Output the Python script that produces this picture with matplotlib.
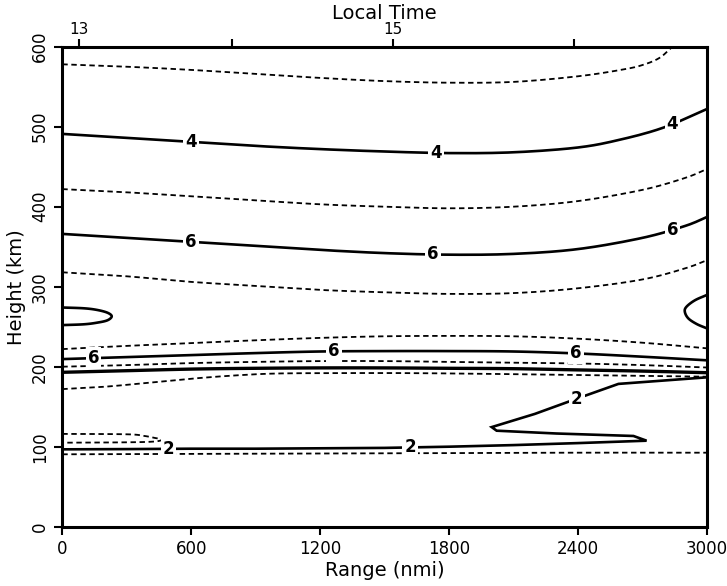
import numpy as np
import matplotlib
matplotlib.use("Agg")
import matplotlib.pyplot as plt

plt.rcParams['font.family'] = ['DejaVu Sans']

# ---- contour lines: range (nmi) and height (km) ----
# dashed contours (intermediate levels)
d_top_r = [0, 300, 600, 900, 1200, 1500, 1800, 2100, 2400, 2600, 2700, 2780, 2840]
d_top_h = [578, 575, 571, 566, 561, 557, 555, 556, 563, 571, 577, 586, 600]

d_420_r = [0, 300, 600, 900, 1200, 1500, 1800, 2100, 2400, 2700, 2900, 3000]
d_420_h = [422, 418, 413, 408, 403, 400, 398, 400, 407, 421, 436, 447]

d_318_r = [0, 300, 600, 900, 1200, 1500, 1800, 2100, 2400, 2700, 2900, 3000]
d_318_h = [318, 313, 306, 301, 296, 293, 291, 292, 298, 309, 323, 333]

d_222_r = [0, 300, 600, 900, 1200, 1500, 1800, 2100, 2400, 2700, 3000]
d_222_h = [222, 226, 229.5, 233, 236, 238, 238.5, 238, 235, 230, 223]

d_200_r = [0, 300, 600, 900, 1200, 1500, 1800, 2100, 2400, 2700, 3000]
d_200_h = [200, 202, 204.5, 206, 207, 207, 206, 205, 204, 202, 199]

d_172_r = [0, 200, 400, 600, 800, 1000, 1300, 1600, 2000, 2400, 2700, 3000]
d_172_h = [172, 175, 180, 185, 189, 191.5, 192, 192, 191, 189.5, 188.5, 187.5]

d_loop_r = [0, 300, 380, 430, 463, 430, 300, 0]
d_loop_h = [116, 115.5, 113.5, 111, 109, 106.5, 105.5, 105]

d_90_r = [0, 600, 1200, 1800, 2400, 3000]
d_90_h = [90.5, 91, 91.5, 92, 92.5, 92.5]

# solid contours (labelled levels)
s4_r = [0, 300, 600, 900, 1200, 1500, 1800, 2100, 2400, 2600, 2800, 3000]
s4_h = [491, 486, 481, 476, 472, 469, 467, 468, 474, 484, 499, 522]

s6a_r = [0, 300, 600, 900, 1200, 1500, 1800, 2100, 2400, 2700, 2900, 3000]
s6a_h = [366, 361, 356, 351, 346, 342, 340, 341, 347, 361, 376, 387]

s6b_r = [0, 300, 600, 900, 1200, 1500, 1800, 2100, 2400, 2700, 3000]
s6b_h = [209.5, 212, 214.5, 217, 219, 219.5, 219.5, 219, 216.5, 212.5, 208]

s_thick_r = [0, 300, 600, 900, 1200, 1500, 1800, 2100, 2400, 2700, 3000]
s_thick_h = [193, 195, 197, 198, 198.5, 198.5, 198, 197.5, 196, 194.5, 192.5]

s2_r = [0, 300, 600, 900, 1200, 1500, 1800, 2100, 2400, 2720,
        2659, 2300, 2022, 1999, 2200, 2400, 2589, 3000]
s2_h = [96.7, 97, 97.5, 97.5, 98, 98.5, 100, 102, 104.5, 107.5,
        113.4, 116.5, 120, 124.5, 141, 160.5, 178.5, 186.7]

bump_left_r = [0, 100, 161, 210, 230, 210, 161, 100, 0]
bump_left_h = [274, 273, 271, 267.5, 263, 258, 255, 253, 252]

bump_right_r = [3000, 2945, 2906, 2898, 2914, 2953, 3000]
bump_right_h = [289.6, 283, 275, 268.8, 260.5, 253.4, 248]

# contour label positions along range (nmi)
label_4 = [600, 1740, 2840]
label_6a = [600, 1725, 2840]
label_6b = [145, 1265, 2392]
label_2 = [494, 1620]
label_2_rise = [2395]

x_ticks = [0, 600, 1200, 1800, 2400, 3000]
y_ticks = [0, 100, 200, 300, 400, 500, 600]
lt_tick_pos = [80, 790, 1540, 2380]
lt_tick_lab = ["13", "", "15", ""]


def smooth(rr, hh, n=12):
    """Catmull-Rom pass through the given points, in screen-like units."""
    p = np.column_stack([np.asarray(rr, float) / 5.0, np.asarray(hh, float)])
    p = np.vstack([p[0] - (p[1] - p[0]), p, p[-1] + (p[-1] - p[-2])])
    out = []
    t = np.linspace(0, 1, n, endpoint=False)[:, None]
    for i in range(1, len(p) - 2):
        p0, p1, p2, p3 = p[i - 1], p[i], p[i + 1], p[i + 2]
        seg = 0.5 * ((2 * p1) + (-p0 + p2) * t +
                     (2 * p0 - 5 * p1 + 4 * p2 - p3) * t ** 2 +
                     (-p0 + 3 * p1 - 3 * p2 + p3) * t ** 3)
        out.append(seg)
    out.append(p[-2][None, :])
    out = np.vstack(out)
    return out[:, 0] * 5.0, out[:, 1]


fig = plt.figure(figsize=(7.27, 5.86), dpi=100)
ax = fig.add_axes([0.0857, 0.1012, 0.8864, 0.8191])

solid_kw = dict(color='black', lw=1.9, solid_capstyle='butt', zorder=3)
dash_kw = dict(color='black', lw=1.3, linestyle=(0, (3.0, 2.0)), zorder=3)

for r, h in [(d_top_r, d_top_h), (d_420_r, d_420_h), (d_318_r, d_318_h),
             (d_222_r, d_222_h), (d_200_r, d_200_h), (d_172_r, d_172_h),
             (d_loop_r, d_loop_h), (d_90_r, d_90_h)]:
    ax.plot(*smooth(r, h), **dash_kw)

for r, h in [(s4_r, s4_h), (s6a_r, s6a_h), (s6b_r, s6b_h),
             (bump_left_r, bump_left_h), (bump_right_r, bump_right_h)]:
    ax.plot(*smooth(r, h), **solid_kw)
# the "2" contour keeps its sharp folds
ax.plot(s2_r, s2_h, color='black', lw=1.9, zorder=3, solid_joinstyle='miter')
ax.plot(*smooth(s_thick_r, s_thick_h), color='black', lw=2.4, zorder=3)

lab_kw = dict(ha='center', va='center', fontsize=12, fontweight='bold',
              zorder=5, bbox=dict(fc='white', ec='none', pad=1.5))


def put_labels(text, xs, rr, hh):
    for x in xs:
        ax.text(x, np.interp(x, rr, hh), text, **lab_kw)


put_labels('4', label_4, s4_r, s4_h)
put_labels('6', label_6a, s6a_r, s6a_h)
put_labels('6', label_6b, s6b_r, s6b_h)
put_labels('2', label_2, s2_r[:10], s2_h[:10])
put_labels('2', label_2_rise, s2_r[13:], s2_h[13:])

ax.set_xlim(0, 3000)
ax.set_ylim(0, 600)
ax.set_xticks(x_ticks)
ax.set_yticks(y_ticks)
ax.set_yticklabels([str(v) for v in y_ticks], rotation=90, va='center')
ax.tick_params(direction='out', length=6, width=1.5, labelsize=12)
for s in ax.spines.values():
    s.set_linewidth(2.2)
ax.set_xlabel('Range (nmi)', fontsize=14, labelpad=2)
ax.set_ylabel('Height (km)', fontsize=14, labelpad=4)

top = ax.secondary_xaxis('top')
top.set_xticks(lt_tick_pos)
top.set_xticklabels(lt_tick_lab)
top.tick_params(direction='out', length=6, width=1.5, labelsize=11, pad=1)
top.set_xlabel('Local Time', fontsize=14, labelpad=2)

fig.savefig('out.png', dpi=100)
